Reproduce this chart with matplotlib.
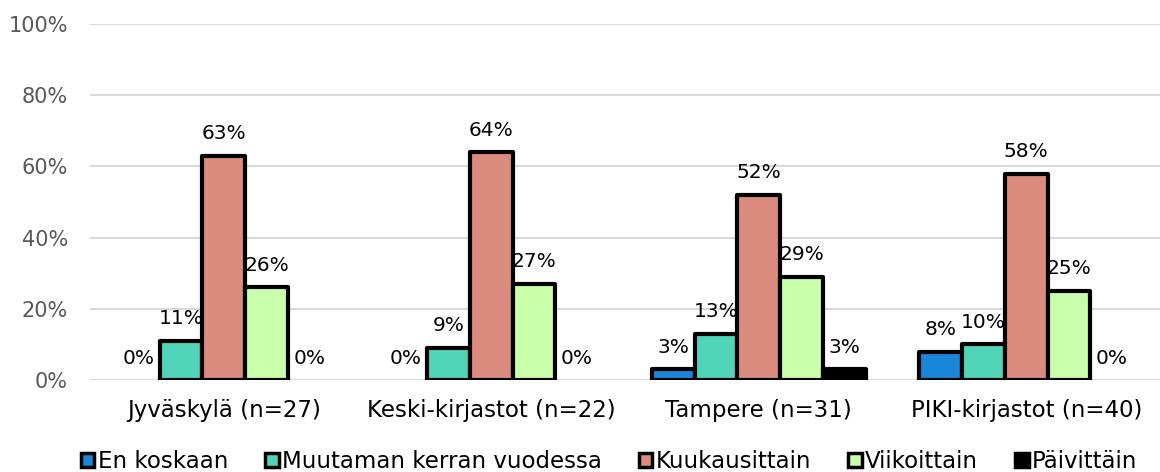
import matplotlib
matplotlib.use("Agg")
import matplotlib.pyplot as plt
import numpy as np

categories = ["Jyväskylä (n=27)", "Keski-kirjastot (n=22)", "Tampere (n=31)", "PIKI-kirjastot (n=40)"]
series_names = ["En koskaan", "Muutaman kerran vuodessa", "Kuukausittain", "Viikoittain", "Päivittäin"]
en_koskaan = [0, 0, 3, 8]
muutaman = [11, 9, 13, 10]
kuukausittain = [63, 64, 52, 58]
viikoittain = [26, 27, 29, 25]
paivittain = [0, 0, 3, 0]
yticks = [0, 20, 40, 60, 80, 100]

series = [en_koskaan, muutaman, kuukausittain, viikoittain, paivittain]
colors = ["#1a86d8", "#52d4b9", "#dc8b7f", "#c9ffaa", "#000000"]

plt.rcParams['font.family'] = ['DejaVu Sans']
fig = plt.figure(figsize=(11.6, 4.72), dpi=100)
ax = fig.add_axes([90/1160, 1-380/472, 1-90/1160, (380-24)/472])

x = np.arange(len(categories))
w = 0.16
for i, (vals, col, name) in enumerate(zip(series, colors, series_names)):
    pos = x + (i - 2) * w
    lws = [3 if v > 0 else 0 for v in vals]
    ax.bar(pos, vals, width=w, color=col, edgecolor="black", linewidth=lws,
           zorder=3, label=name, joinstyle='round')
    for p, v in zip(pos, vals):
        ax.annotate(f"{v}%", (p, v), xytext=(0, 9), textcoords="offset points",
                    ha="center", va="bottom", fontsize=14.5, color="#000000", zorder=2)

ax.set_ylim(0, 100)
ax.set_xlim(-0.5, len(categories) - 0.5)
ax.set_yticks(yticks)
ax.set_yticklabels([f"{t}%" for t in yticks], fontsize=15, color="#595959")
ax.set_xticks(x)
ax.set_xticklabels(categories, fontsize=16.5, color="#000000")
ax.tick_params(axis='both', length=0)
ax.tick_params(axis='x', pad=14)
ax.tick_params(axis='y', pad=16)
ax.grid(axis='y', color="#d9d9d9", linewidth=1.5, zorder=0)
for s in ax.spines.values():
    s.set_visible(False)

handles, labels = ax.get_legend_handles_labels()
leg = fig.legend(handles, labels, loc="upper center", bbox_to_anchor=(609/1160, 1-450/472),
                 ncol=5, frameon=False, fontsize=16.5, handlelength=0.6, handleheight=0.6,
                 handletextpad=0.15, columnspacing=1.6, borderaxespad=0, borderpad=0)
for h in leg.legend_handles:
    h.set_linewidth(2.5)

fig.savefig("out.png", dpi=100)
